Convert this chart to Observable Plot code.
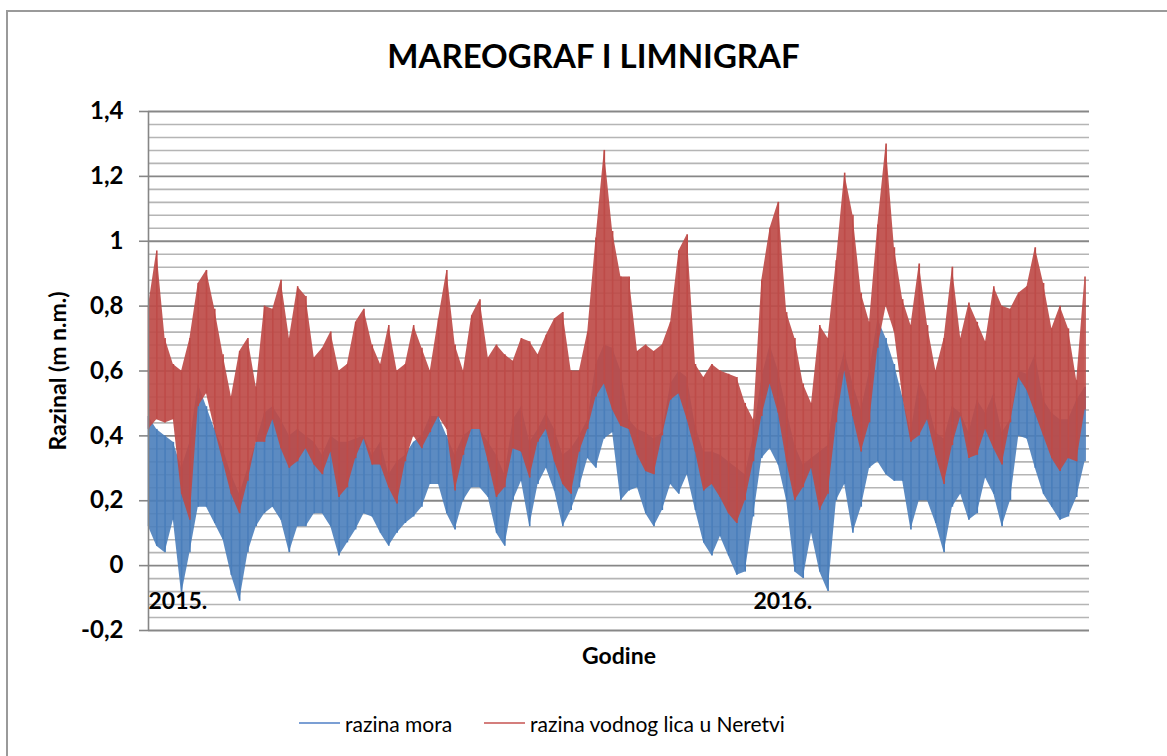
<!DOCTYPE html>
<html><head><meta charset="utf-8">
<script src="https://cdn.jsdelivr.net/npm/d3@7"></script>
<script src="https://cdn.jsdelivr.net/npm/@observablehq/plot@0.6"></script>
<style>
body{margin:0;background:#fff;font-family:Lato,"Open Sans",sans-serif;}
#wrap{position:relative;width:1167px;height:756px;overflow:hidden;background:#fff;}
#frame{position:absolute;left:6px;top:10px;width:1300px;height:900px;border:2px solid #9a9a9a;}
#title{position:absolute;left:0;width:1187px;top:39px;text-align:center;font-weight:bold;font-size:33px;line-height:33px;color:#000;}
#chart{position:absolute;left:0;top:0;}
.legline{position:absolute;height:2px;top:722px;}
.legtext{position:absolute;top:713px;font-size:21px;line-height:21px;color:#000;white-space:nowrap;}
</style></head>
<body>
<div id="wrap">
  <div id="frame"></div>
  <div id="chart"></div>
  <div id="title">MAREOGRAF I LIMNIGRAF</div>
  <div class="legline" style="left:299px;width:41px;background:#7b9fd4"></div>
  <div class="legtext" style="left:345px">razina mora</div>
  <div class="legline" style="left:484px;width:41px;background:#d47e7c"></div>
  <div class="legtext" style="left:530px">razina vodnog lica u Neretvi</div>
</div>
<script>
// Envelope readings (max / min) every 5 days from 1 Jan 2015
const rH = [0.80,0.97,0.70,0.62,0.60,0.70,0.87,0.91,0.79,0.65,
0.52,0.66,0.70,0.55,0.80,0.79,0.88,0.70,0.86,0.83,
0.64,0.67,0.72,0.60,0.62,0.75,0.79,0.68,0.62,0.74,
0.60,0.62,0.74,0.67,0.60,0.76,0.91,0.68,0.60,0.77,
0.82,0.64,0.68,0.65,0.63,0.70,0.69,0.65,0.71,0.76,
0.78,0.60,0.60,0.72,1.01,1.28,1.03,0.89,0.89,0.66,
0.68,0.66,0.68,0.75,0.97,1.02,0.62,0.58,0.62,0.60,
0.59,0.58,0.50,0.45,0.88,1.04,1.12,0.78,0.70,0.56,
0.50,0.74,0.70,0.94,1.21,1.08,0.84,0.75,1.05,1.30,
0.98,0.82,0.74,0.93,0.74,0.60,0.70,0.92,0.70,0.81,
0.75,0.69,0.86,0.80,0.79,0.84,0.86,0.98,0.87,0.73,
0.80,0.73,0.57,0.89];
const rL = [0.42,0.45,0.44,0.45,0.22,0.14,0.49,0.53,0.42,0.32,
0.22,0.16,0.26,0.38,0.38,0.45,0.36,0.30,0.32,0.36,
0.31,0.28,0.35,0.21,0.24,0.33,0.39,0.31,0.31,0.24,
0.19,0.32,0.40,0.36,0.41,0.46,0.42,0.23,0.34,0.42,
0.42,0.32,0.21,0.24,0.36,0.35,0.27,0.38,0.42,0.32,
0.25,0.22,0.35,0.42,0.52,0.56,0.48,0.43,0.42,0.34,
0.29,0.28,0.40,0.51,0.53,0.45,0.35,0.23,0.25,0.21,
0.16,0.13,0.20,0.32,0.46,0.56,0.47,0.32,0.20,0.24,
0.30,0.17,0.22,0.44,0.60,0.46,0.35,0.44,0.67,0.80,
0.72,0.52,0.38,0.40,0.45,0.34,0.25,0.37,0.46,0.33,
0.34,0.42,0.36,0.31,0.44,0.58,0.54,0.47,0.40,0.33,
0.29,0.33,0.32,0.48];
const bH = [0.46,0.42,0.40,0.38,0.30,0.38,0.56,0.49,0.42,0.36,
0.28,0.22,0.30,0.38,0.47,0.49,0.45,0.40,0.42,0.40,
0.38,0.34,0.40,0.38,0.38,0.39,0.40,0.34,0.38,0.28,
0.32,0.34,0.38,0.40,0.46,0.46,0.40,0.34,0.40,0.42,
0.42,0.38,0.34,0.28,0.45,0.49,0.38,0.42,0.47,0.42,
0.34,0.36,0.40,0.45,0.62,0.68,0.67,0.60,0.45,0.42,
0.41,0.39,0.41,0.56,0.60,0.58,0.43,0.35,0.35,0.34,
0.32,0.30,0.28,0.40,0.58,0.68,0.60,0.48,0.37,0.31,
0.33,0.35,0.37,0.56,0.66,0.56,0.48,0.60,0.76,0.70,
0.62,0.52,0.41,0.57,0.51,0.41,0.39,0.49,0.47,0.41,
0.51,0.47,0.53,0.41,0.45,0.60,0.59,0.65,0.51,0.47,
0.45,0.45,0.51,0.55];
const bL = [0.12,0.06,0.04,0.14,-0.09,0.04,0.18,0.18,0.13,0.08,
-0.03,-0.11,0.04,0.12,0.16,0.18,0.14,0.04,0.12,0.12,
0.16,0.16,0.12,0.03,0.07,0.11,0.16,0.15,0.10,0.06,
0.10,0.13,0.15,0.18,0.25,0.25,0.16,0.11,0.20,0.24,
0.24,0.21,0.10,0.06,0.20,0.26,0.12,0.25,0.30,0.23,
0.12,0.17,0.24,0.33,0.30,0.39,0.41,0.20,0.23,0.24,
0.16,0.12,0.17,0.25,0.22,0.28,0.17,0.07,0.03,0.09,
0.03,-0.03,-0.02,0.15,0.33,0.36,0.31,0.20,-0.02,-0.04,
0.10,-0.02,-0.08,0.20,0.25,0.10,0.18,0.30,0.32,0.28,
0.26,0.26,0.11,0.20,0.20,0.13,0.04,0.18,0.22,0.14,
0.16,0.27,0.22,0.12,0.20,0.40,0.39,0.30,0.22,0.18,
0.14,0.15,0.21,0.32];
const yearLabels = [{day: 0, label: "2015."}, {day: 365, label: "2016."}];
const majorTicks = [-0.2, 0, 0.2, 0.4, 0.6, 0.8, 1, 1.2, 1.4];
const minorTicks = d3.range(41).map(i => +(-0.2 + i * 0.04).toFixed(2))
  .filter(v => !majorTicks.some(m => Math.abs(m - v) < 1e-6));

const step = 5;
const band = (hi, lo) => hi.map((h, i) => ({day: i * step, hi: h, lo: lo[i]}));
const blue = "#4a7ebb", red = "#be4b48";
const fmt = d => String(+d.toFixed(1)).replace(".", ",");
const blueBand = band(bH, bL), redBand = band(rH, rL);

const chart = Plot.plot({
  width: 1167, height: 700,
  marginLeft: 148, marginRight: 78, marginTop: 111, marginBottom: 70,
  style: {fontFamily: "Lato, 'Open Sans', sans-serif", fontSize: "24px", fontWeight: "bold", background: "transparent", color: "#000"},
  x: {domain: [0, 567.7], axis: null},
  y: {domain: [-0.2, 1.4], ticks: majorTicks, tickSize: 9, tickPadding: 16, tickFormat: fmt, label: null},
  marks: [
    Plot.ruleY(minorTicks, {stroke: "#b5b5b5", strokeWidth: 1.6}),
    Plot.ruleY(majorTicks, {stroke: "#878787", strokeWidth: 1.8}),
    Plot.areaY(blueBand, {x: "day", y1: "lo", y2: "hi", fill: blue, fillOpacity: 0.9}),
    Plot.ruleX(blueBand, {x: "day", y1: "lo", y2: "hi", stroke: blue, strokeWidth: 1.6}),
    Plot.areaY(redBand, {x: "day", y1: "lo", y2: "hi", fill: red, fillOpacity: 0.92}),
    Plot.ruleX(redBand, {x: "day", y1: "lo", y2: "hi", stroke: red, strokeWidth: 1.6}),
    Plot.ruleX([0], {stroke: "#868686", strokeWidth: 1.6}),
    Plot.text(yearLabels, {x: "day", text: "label", frameAnchor: "bottom", dy: -22, textAnchor: "start", fontSize: 23, fontWeight: "bold", fill: "#000"}),
    Plot.text(["Razinal (m n.m.)"], {frameAnchor: "left", dx: -90, rotate: -90, textAnchor: "middle", lineAnchor: "middle", fontSize: 23, fontWeight: "bold", fill: "#000"}),
    Plot.text(["Godine"], {frameAnchor: "bottom", dy: 26, lineAnchor: "middle", fontSize: 23, fontWeight: "bold", fill: "#000"})
  ]
});
d3.select(chart).selectAll("[aria-label='y-axis tick']").attr("stroke", "#868686").attr("stroke-width", 1.6);
document.getElementById("chart").appendChild(chart);
</script>
</body></html>
